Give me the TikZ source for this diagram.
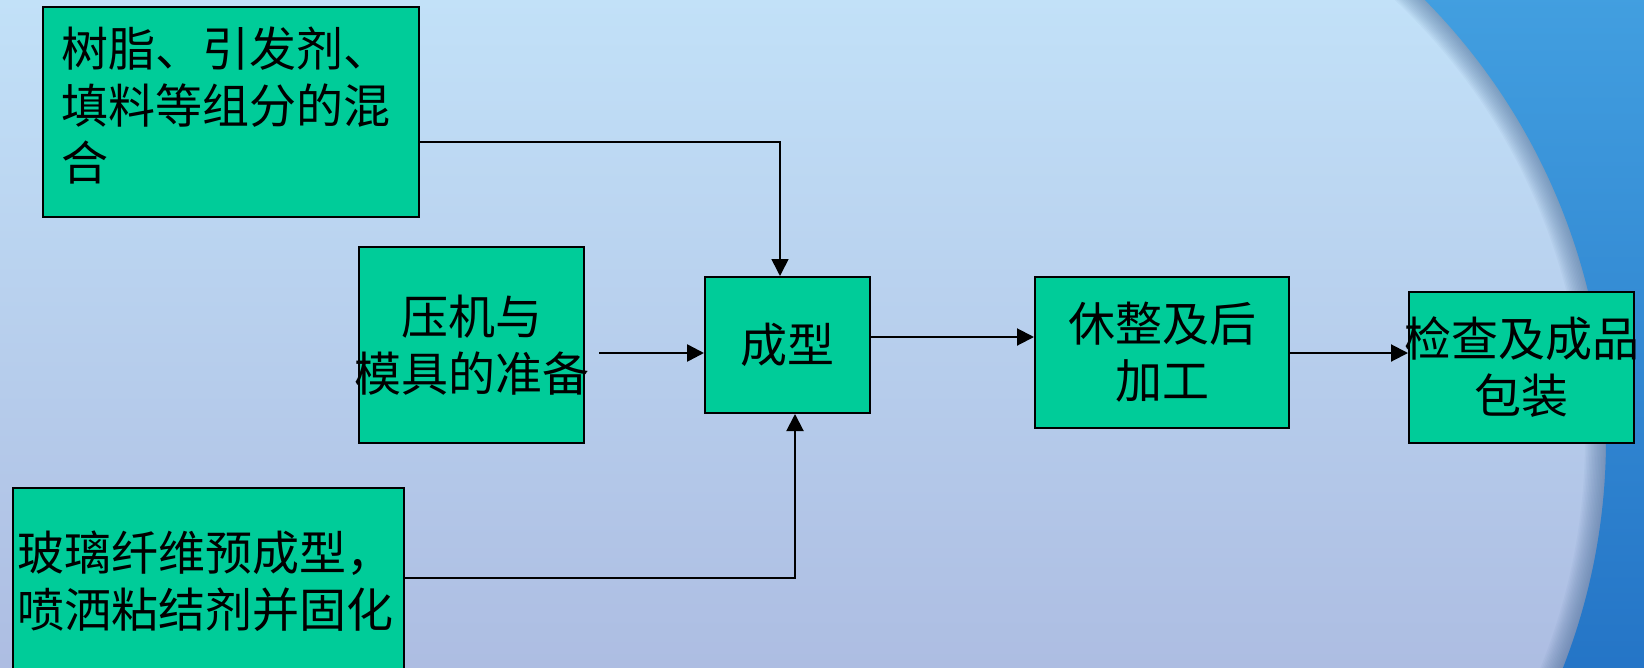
\documentclass[tikz,border=0pt]{standalone}
\usepackage{fontspec}
\newfontfamily\cjk{Noto Sans CJK SC}
\usetikzlibrary{arrows.meta}
\definecolor{boxgreen}{HTML}{00CC99}
\definecolor{bgtop}{HTML}{C2E1F8}
\definecolor{bgbot}{HTML}{ADBDE2}
\definecolor{outtop}{HTML}{429FE0}
\definecolor{outbot}{HTML}{2474C6}
\definecolor{rim}{HTML}{4A6E9A}
\begin{document}
\begin{tikzpicture}[x=1pt,y=-1pt,
  box/.style={draw=black, line width=2pt, fill=boxgreen, inner sep=0pt},
  txt/.style={font=\cjk\fontsize{47}{57}\selectfont, inner sep=0pt, align=center},
  arr/.style={line width=2pt, -{Triangle[length=17pt,width=17pt]}}]
\useasboundingbox (0,0) rectangle (1644,667);
\clip (0,0) rectangle (1644,667);
% background
\fill[bgtop] (0,0) rectangle (1644,667);
\shade[top color=bgtop, bottom color=bgbot] (-2,-2) rectangle (1646,669);
\foreach \w in {3,6,...,42}{
  \draw[rim, line width=\w pt, opacity=0.05] plot[domain=47:-24, samples=90] ({981+625*cos(\x)},{440-625*sin(\x)});
}
\shade[top color=outtop, bottom color=outbot] (1650,-6) -- plot[domain=45.6:-22.6, samples=90] ({981+625*cos(\x)},{440-625*sin(\x)}) -- (1650,674) -- cycle;
% boxes
\node[box, minimum width=376pt, minimum height=210pt] (b1) at (231,112) {};
\node[txt, anchor=west, align=left] (t1) at (61,105) {树脂、引发剂、\\填料等组分的混\\合};
\node[box, txt, minimum width=225pt, minimum height=196pt] (b2) at (471.5,345) {压机与\\\makebox[0pt]{模具的准备}};
\node[box, txt, minimum width=165pt, minimum height=136pt] (b3) at (787.5,345) {成型};
\node[box, txt, minimum width=254pt, minimum height=151pt] (b4) at (1162,352.5) {休整及后\\加工};
\node[box, txt, minimum width=225pt, minimum height=151pt] (b5) at (1521.5,367.5) {\makebox[0pt]{检查及成品}\\包装};
\node[box, minimum width=391pt, minimum height=212pt] (b6) at (208.5,594) {};
\node[txt, anchor=west, align=left] (t6) at (17,581) {玻璃纤维预成型，\\喷洒粘结剂并固化};
% connectors
\coordinate (k1) at (780,142);
\draw[arr, line width=1.6pt] (b1.east |- k1) -- (k1) -- (k1 |- b3.north);
\coordinate (s2) at (599,353);
\draw[arr, line width=2.6pt] (s2) -- (s2 -| b3.west);
\coordinate (k3) at (795,578);
\draw[arr] (b6.east |- k3) -- (k3) -- (k3 |- b3.south);
\coordinate (k4) at (0,337);
\draw[arr] (b3.east |- k4) -- (b4.west |- k4);
\coordinate (k5) at (0,353);
\draw[arr] (b4.east |- k5) -- (b5.west |- k5);
\end{tikzpicture}
\end{document}
